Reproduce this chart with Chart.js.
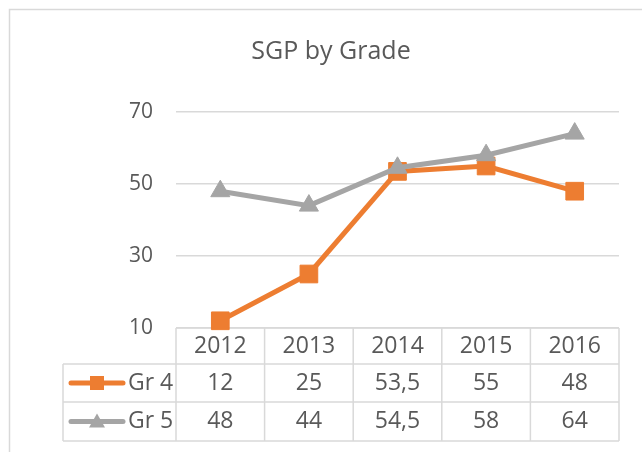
<!DOCTYPE html>
<html lang="en">
<head>
<meta charset="UTF-8">
<title>SGP by Grade</title>
<script src="https://cdn.jsdelivr.net/npm/chart.js"></script>
<style>
  html, body { margin: 0; padding: 0; background: #fff; }
  #wrap { width: 642px; height: 452px; position: relative; }
</style>
</head>
<body>
<div id="wrap"><canvas id="chart"></canvas></div>
<script>
const years = ['2012', '2013', '2014', '2015', '2016'];
const gr4 = [12, 25, 53.5, 55, 48];
const gr5 = [48, 44, 54.5, 58, 64];
const seriesNames = ['Gr 4', 'Gr 5'];
const yMin = 10, yMax = 70, yStep = 20;

const textColor = '#595959';
const lineGray = '#d9d9d9';
const orange = '#ed7d31';
const gray = '#a5a5a5';
const fontFamily = '"Open Sans", "Noto Sans", sans-serif';

// the sheet uses a comma as decimal mark
const fmt = v => String(v).replace('.', ',');

const drawKey = (ctx, cx, cy, color, shape) => {
    ctx.save();
    ctx.strokeStyle = color;
    ctx.fillStyle = color;
    ctx.lineWidth = 5;
    ctx.lineCap = 'round';
    ctx.beginPath();
    ctx.moveTo(cx - 26, cy);
    ctx.lineTo(cx + 26, cy);
    ctx.stroke();
    ctx.beginPath();
    if (shape === 'rect') {
        ctx.rect(cx - 7, cy - 7, 14, 14);
    } else {
        ctx.moveTo(cx, cy - 8);
        ctx.lineTo(cx + 8, cy + 6);
        ctx.lineTo(cx - 8, cy + 6);
        ctx.closePath();
    }
    ctx.fill();
    ctx.restore();
};

const dataTable = {
    id: 'dataTable',
    beforeDraw(chart) {
        const ctx = chart.ctx;
        ctx.save();
        ctx.fillStyle = '#fff';
        ctx.fillRect(0, 0, chart.width, chart.height);
        // chart frame (cut off at right and bottom)
        ctx.strokeStyle = lineGray;
        ctx.lineWidth = 1.5;
        ctx.beginPath();
        ctx.moveTo(9.5, chart.height);
        ctx.lineTo(9.5, 9.5);
        ctx.lineTo(chart.width, 9.5);
        ctx.stroke();
        ctx.restore();
    },
    beforeDatasetsDraw(chart) {
        const { ctx, chartArea, scales: { x } } = chart;
        const half = (x.getPixelForValue(1) - x.getPixelForValue(0)) / 2;
        const top = chartArea.bottom;
        const rows = [top, top + 36, top + 74, top + 113];
        const left = 63;
        const edges = years.map((_, i) => x.getPixelForValue(i) - half);
        edges.push(x.getPixelForValue(years.length - 1) + half);
        const right = edges[edges.length - 1];

        ctx.save();
        ctx.strokeStyle = lineGray;
        ctx.lineWidth = 1.5;
        ctx.beginPath();
        ctx.moveTo(edges[0], rows[0]); ctx.lineTo(right, rows[0]);
        for (let r = 1; r < rows.length; r++) {
            ctx.moveTo(left, rows[r]); ctx.lineTo(right, rows[r]);
        }
        ctx.moveTo(left, rows[1]); ctx.lineTo(left, rows[3]);
        edges.forEach(e => { ctx.moveTo(e, rows[0]); ctx.lineTo(e, rows[3]); });
        ctx.stroke();

        ctx.fillStyle = textColor;
        ctx.font = `23px ${fontFamily}`;
        ctx.textAlign = 'center';
        ctx.textBaseline = 'middle';
        const mid = r => (rows[r] + rows[r + 1]) / 2;
        years.forEach((y, i) => ctx.fillText(y, x.getPixelForValue(i), mid(0)));
        [gr4, gr5].forEach((vals, r) => {
            vals.forEach((v, i) => ctx.fillText(fmt(v), x.getPixelForValue(i), mid(r + 1)));
        });
        ctx.textAlign = 'left';
        seriesNames.forEach((n, r) => ctx.fillText(n, 128, mid(r + 1)));
        ctx.restore();

        drawKey(ctx, 97, mid(1), orange, 'rect');
        drawKey(ctx, 97, mid(2), gray, 'triangle');
    }
};

new Chart(document.getElementById('chart'), {
    type: 'line',
    data: {
        labels: years,
        datasets: [
            {
                label: seriesNames[0], data: gr4, order: 1,
                borderColor: orange, backgroundColor: orange,
                borderWidth: 5, pointStyle: 'rect', pointRadius: 12.5,
                pointBorderColor: orange, pointBackgroundColor: orange, pointBorderWidth: 1,
                tension: 0, clip: false
            },
            {
                label: seriesNames[1], data: gr5, order: 0,
                borderColor: gray, backgroundColor: gray,
                borderWidth: 5, pointStyle: 'triangle', pointRadius: 11,
                pointBorderColor: gray, pointBackgroundColor: gray, pointBorderWidth: 1,
                tension: 0, clip: false
            }
        ]
    },
    options: {
        responsive: true,
        maintainAspectRatio: false,
        animation: false,
        layout: { padding: { left: 43, right: 23, top: 0, bottom: 124 } },
        plugins: {
            legend: { display: false },
            tooltip: { enabled: false },
            title: {
                display: true,
                text: 'SGP by Grade',
                color: textColor,
                font: { family: fontFamily, size: 25, weight: 'normal', lineHeight: 1.2 },
                padding: { top: 37, bottom: 45 }
            }
        },
        scales: {
            x: { display: false, offset: true },
            y: {
                min: yMin, max: yMax,
                border: { display: false },
                grid: { color: lineGray, lineWidth: 1.5, drawTicks: false },
                ticks: {
                    stepSize: yStep, padding: 23, color: textColor,
                    font: { family: fontFamily, size: 21 }
                },
                afterFit(scale) { scale.width = 133; }
            }
        }
    },
    plugins: [dataTable]
});
</script>
</body>
</html>
